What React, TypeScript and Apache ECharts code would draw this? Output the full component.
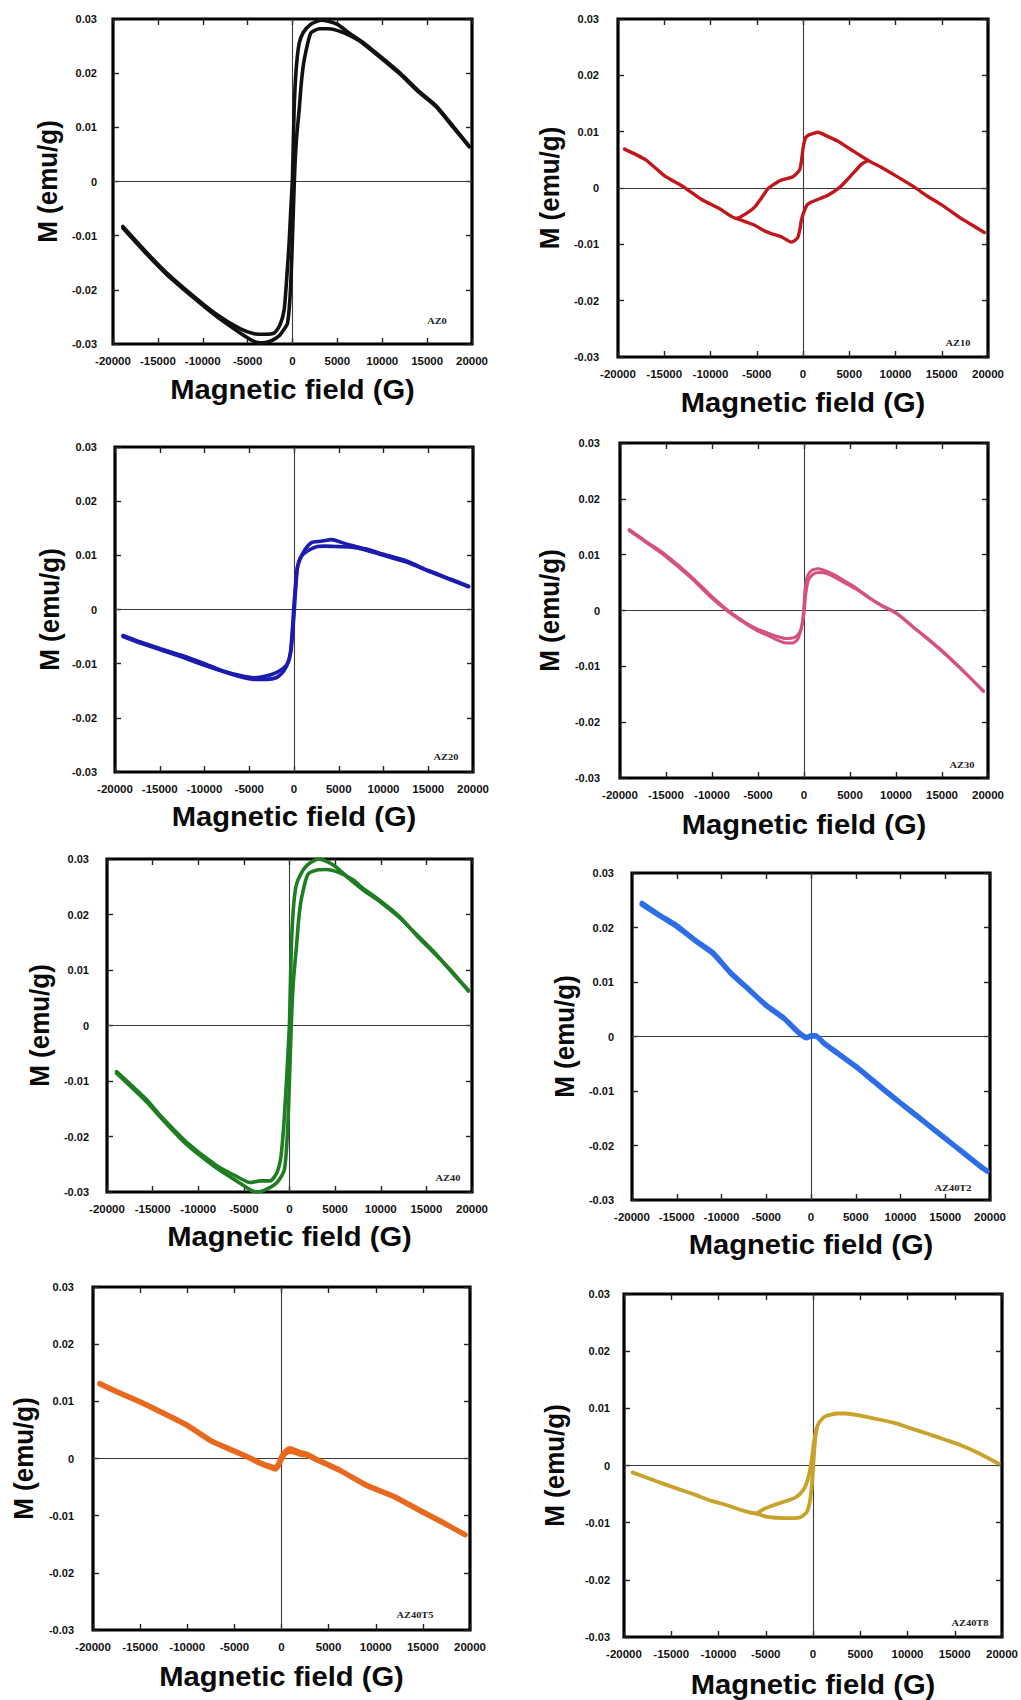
import React, { useEffect, useRef } from "react";
import * as echarts from "echarts";

// ---------- axis ticks ----------
const X_MIN = -20000;
const X_MAX = 20000;
const X_STEP = 5000;
const Y_MIN = -0.03;
const Y_MAX = 0.03;
const Y_STEP = 0.01;

const X_TITLE = "Magnetic field (G)";
const Y_TITLE = "M (emu/g)";

// ---------- data: [field (G), magnetization (emu/g)] ----------
const AZ0_DESC = [
  [19700, 0.0065], [18000, 0.0100], [16000, 0.0140], [14000, 0.0168], [12000, 0.0200],
  [10000, 0.0228], [8000, 0.0255], [6500, 0.0272], [5000, 0.0290], [4000, 0.0296],
  [3150, 0.0298], [2000, 0.0290], [1200, 0.0275], [740, 0.0255], [400, 0.0205],
  [180, 0.0132], [0, 0.0009], [-200, -0.0055], [-380, -0.0114], [-650, -0.0180],
  [-930, -0.0237], [-1400, -0.0265], [-2050, -0.0280], [-3160, -0.0282], [-4280, -0.0281],
  [-5800, -0.0272], [-8400, -0.0246], [-11000, -0.0212], [-14000, -0.0169], [-16200, -0.0132],
  [-18900, -0.0083],
];
const AZ0_ASC = [
  [-18900, -0.0086], [-16200, -0.0135], [-14000, -0.0172], [-11000, -0.0215], [-8400, -0.0250],
  [-5800, -0.0280], [-4300, -0.0295], [-3530, -0.0298], [-2500, -0.0295], [-1500, -0.0285],
  [-900, -0.0272], [-560, -0.0262], [-300, -0.0220], [-100, -0.0150], [100, -0.0050],
  [250, 0.0020], [450, 0.0080], [740, 0.0132], [1000, 0.0185], [1300, 0.0224],
  [2040, 0.0274], [3000, 0.0282], [4000, 0.0282], [5500, 0.0276], [7000, 0.0264],
  [8000, 0.0253], [10000, 0.0226], [12000, 0.0198], [14000, 0.0166], [16000, 0.0138],
  [18000, 0.0098], [19700, 0.0064],
];

const AZ10_MAIN = [
  [-19300, 0.0069], [-17000, 0.0050], [-15000, 0.0022], [-13000, 0.0003], [-11000, -0.0020],
  [-9000, -0.0037], [-7200, -0.0054], [-6200, -0.0046], [-5230, -0.0034], [-4500, -0.0018],
  [-3780, -0.0001], [-3000, 0.0008], [-2350, 0.0014], [-1090, 0.0020], [-370, 0.0032],
  [-150, 0.0050], [0, 0.0070], [250, 0.0088], [610, 0.0094], [1000, 0.0096],
  [1620, 0.0099], [2500, 0.0093], [3780, 0.0083], [5200, 0.0068], [7020, 0.0049],
  [8450, 0.0037], [10000, 0.0022], [12000, 0.0002], [13500, -0.0015], [15000, -0.0030],
  [17000, -0.0053], [18500, -0.0068], [19600, -0.0079],
];
const AZ10_LOOP = [
  [-7200, -0.0054], [-6200, -0.0060], [-5230, -0.0066], [-4300, -0.0075], [-3430, -0.0081],
  [-2300, -0.0087], [-1270, -0.0096], [-800, -0.0092], [-540, -0.0087], [-300, -0.0070],
  [-180, -0.0057], [180, -0.0039], [450, -0.0030], [900, -0.0025], [1800, -0.0019],
  [2700, -0.0013], [3960, 0.0001], [4800, 0.0015], [5580, 0.0029], [6300, 0.0042],
  [7020, 0.0049],
];

const AZ20_DESC = [
  [19500, 0.0043], [17500, 0.0056], [15000, 0.0072], [12500, 0.0090], [10000, 0.0102],
  [8000, 0.0112], [6000, 0.0120], [4200, 0.0129], [3000, 0.0126], [2000, 0.0124],
  [1200, 0.0110], [600, 0.0090], [300, 0.0070], [100, 0.0030], [0, 0.0010],
  [-150, -0.0030], [-400, -0.0080], [-800, -0.0102], [-1500, -0.0112], [-2500, -0.0120],
  [-3500, -0.0124], [-4500, -0.0126], [-6000, -0.0122], [-8000, -0.0113], [-10000, -0.0100],
  [-12500, -0.0085], [-15000, -0.0072], [-17500, -0.0058], [-19100, -0.0048],
];
const AZ20_ASC = [
  [-19100, -0.0050], [-17500, -0.0060], [-15000, -0.0074], [-12500, -0.0088], [-10000, -0.0103],
  [-8000, -0.0114], [-6000, -0.0124], [-4500, -0.0129], [-3000, -0.0129], [-2000, -0.0126],
  [-1200, -0.0115], [-600, -0.0095], [-300, -0.0070], [-100, -0.0030], [0, -0.0010],
  [150, 0.0030], [400, 0.0080], [800, 0.0098], [1500, 0.0108], [2500, 0.0116],
  [3500, 0.0117], [5000, 0.0116], [6500, 0.0115], [8000, 0.0110], [10000, 0.0100],
  [12500, 0.0088], [15000, 0.0071], [17500, 0.0055], [19500, 0.0042],
];

const AZ30_DESC = [
  [19500, -0.0145], [18000, -0.0119], [16500, -0.0095], [15000, -0.0072], [13500, -0.0051],
  [12000, -0.0031], [10500, -0.0010], [9700, -0.0001], [8600, 0.0008], [7200, 0.0022],
  [5700, 0.0040], [4500, 0.0052], [3500, 0.0062], [2500, 0.0070], [1600, 0.0075],
  [1000, 0.0073], [600, 0.0068], [300, 0.0058], [100, 0.0035], [0, 0.0010],
  [-200, -0.0025], [-500, -0.0040], [-1000, -0.0048], [-2000, -0.0050], [-3000, -0.0046],
  [-4000, -0.0040], [-5100, -0.0033], [-6500, -0.0020], [-8400, 0.0002], [-10200, 0.0028],
  [-12200, 0.0060], [-15300, 0.0103], [-17000, 0.0122], [-19000, 0.0145],
];
const AZ30_ASC = [
  [-19000, 0.0143], [-17000, 0.0120], [-15300, 0.0100], [-12200, 0.0057], [-10200, 0.0025],
  [-8400, 0.0000], [-6500, -0.0022], [-5100, -0.0036], [-4000, -0.0044], [-3000, -0.0052],
  [-2000, -0.0058], [-1200, -0.0058], [-700, -0.0052], [-300, -0.0032], [0, -0.0005],
  [200, 0.0030], [500, 0.0055], [1000, 0.0065], [1600, 0.0068], [2500, 0.0066],
  [3500, 0.0058], [4500, 0.0049], [5700, 0.0038], [7200, 0.0021], [8600, 0.0007],
  [9700, -0.0002], [10500, -0.0011], [12000, -0.0032], [13500, -0.0052], [15000, -0.0073],
  [16500, -0.0096], [18000, -0.0120], [19500, -0.0144],
];

const AZ40_DESC = [
  [19600, 0.0064], [18000, 0.0092], [16000, 0.0130], [14000, 0.0163], [12000, 0.0195],
  [10000, 0.0222], [8000, 0.0245], [6500, 0.0265], [5000, 0.0287], [4000, 0.0296],
  [3200, 0.0300], [2000, 0.0290], [1200, 0.0272], [700, 0.0250], [400, 0.0205],
  [180, 0.0130], [0, 0.0005], [-200, -0.0060], [-400, -0.0120], [-650, -0.0185],
  [-950, -0.0238], [-1400, -0.0266], [-2100, -0.0280], [-3200, -0.0280], [-4300, -0.0283],
  [-5800, -0.0272], [-8000, -0.0252], [-11300, -0.0210], [-14000, -0.0165], [-15700, -0.0133],
  [-18950, -0.0083],
];
const AZ40_ASC = [
  [-18950, -0.0086], [-15700, -0.0137], [-14000, -0.0168], [-11300, -0.0214], [-8000, -0.0257],
  [-5800, -0.0280], [-4200, -0.0297], [-3500, -0.0300], [-2500, -0.0295], [-1500, -0.0285],
  [-900, -0.0272], [-560, -0.0260], [-300, -0.0215], [-100, -0.0145], [100, -0.0045],
  [250, 0.0025], [450, 0.0085], [750, 0.0140], [1000, 0.0190], [1300, 0.0228],
  [2000, 0.0272], [3000, 0.0280], [4000, 0.0281], [5500, 0.0275], [7000, 0.0262],
  [8000, 0.0248], [10000, 0.0224], [12000, 0.0197], [14000, 0.0161], [16000, 0.0128],
  [18000, 0.0094], [19600, 0.0062],
];

const AZ40T2_DESC = [
  [19700, -0.0246], [19000, -0.0238], [17000, -0.0212], [15000, -0.0186], [13000, -0.0160],
  [11000, -0.0134], [9000, -0.0108], [7000, -0.0081], [5000, -0.0054], [3000, -0.0030],
  [1500, -0.0012], [500, 0.0002], [0, 0.0002], [-500, -0.0001], [-1500, 0.0010],
  [-3000, 0.0034], [-5000, 0.0058], [-7000, 0.0088], [-9000, 0.0118], [-11000, 0.0155],
  [-13000, 0.0178], [-15000, 0.0204], [-17000, 0.0224], [-18900, 0.0245],
];
const AZ40T2_ASC = [
  [-18900, 0.0242], [-17000, 0.0222], [-15000, 0.0201], [-13000, 0.0176], [-11000, 0.0152],
  [-9000, 0.0116], [-7000, 0.0086], [-5000, 0.0056], [-3000, 0.0032], [-1500, 0.0008],
  [-500, -0.0003], [0, 0.0000], [500, 0.0000], [1500, -0.0014], [3000, -0.0032],
  [5000, -0.0056], [7000, -0.0083], [9000, -0.0110], [11000, -0.0136], [13000, -0.0162],
  [15000, -0.0188], [17000, -0.0214], [19000, -0.0240], [19700, -0.0248],
];

const AZ40T5_DESC = [
  [19500, -0.0133], [17000, -0.0110], [14350, -0.0087], [12000, -0.0066], [9050, -0.0046],
  [6220, -0.0020], [3750, -0.0001], [2700, 0.0008], [1980, 0.0011], [1500, 0.0014],
  [920, 0.0018], [400, 0.0013], [0, 0.0004], [-320, -0.0008], [-670, -0.0016],
  [-1200, -0.0013], [-2260, -0.0007], [-3500, 0.0003], [-5000, 0.0014], [-7500, 0.0032],
  [-10000, 0.0059], [-12500, 0.0080], [-15000, 0.0100], [-17500, 0.0118], [-19300, 0.0132],
];
const AZ40T5_ASC = [
  [-19300, 0.0130], [-17500, 0.0116], [-15000, 0.0098], [-12500, 0.0078], [-10000, 0.0057],
  [-7500, 0.0030], [-5000, 0.0012], [-3500, 0.0001], [-2260, -0.0009], [-1200, -0.0016],
  [-670, -0.0019], [-300, -0.0013], [0, -0.0002], [400, 0.0008], [920, 0.0012],
  [1500, 0.0010], [2000, 0.0007], [2700, 0.0005], [3750, -0.0003], [6220, -0.0022],
  [9050, -0.0048], [12000, -0.0068], [14350, -0.0089], [17000, -0.0112], [19500, -0.0134],
];

const AZ40T8_MAIN = [
  [-19100, -0.0012], [-17000, -0.0025], [-14450, -0.0040], [-12500, -0.0051], [-10900, -0.0061],
  [-9000, -0.0070], [-7400, -0.0079], [-6040, -0.0084], [-5200, -0.0076], [-4100, -0.0069],
  [-3000, -0.0063], [-1980, -0.0057], [-1400, -0.0050], [-920, -0.0040], [-600, -0.0027],
  [-390, -0.0014], [-140, 0.0010], [140, 0.0045], [500, 0.0071], [1200, 0.0085],
  [2620, 0.0091], [3500, 0.0091], [4740, 0.0088], [6500, 0.0082], [8520, 0.0075],
  [10000, 0.0067], [12050, 0.0056], [14000, 0.0045], [15580, 0.0036], [17500, 0.0022],
  [19650, 0.0003],
];
const AZ40T8_LOOP = [
  [-6040, -0.0084], [-4800, -0.0090], [-3040, -0.0092], [-2000, -0.0092], [-1270, -0.0090],
  [-800, -0.0084], [-560, -0.0078], [-350, -0.0065], [-210, -0.0049], [-100, -0.0030],
  [-30, -0.0014], [60, 0.0010], [140, 0.0027], [250, 0.0050], [400, 0.0065],
];

// ---------- panels ----------
const SAMPLES = ["AZ0", "AZ10", "AZ20", "AZ30", "AZ40", "AZ40T2", "AZ40T5", "AZ40T8"];
const COLORS = ["#111111", "#c0171c", "#1b1bb0", "#d4527f", "#1f7d23", "#2d6ee6", "#e8691d", "#c8a22a"];
const BRANCHES = [
  [AZ0_DESC, AZ0_ASC],
  [AZ10_MAIN, AZ10_LOOP],
  [AZ20_DESC, AZ20_ASC],
  [AZ30_DESC, AZ30_ASC],
  [AZ40_DESC, AZ40_ASC],
  [AZ40T2_DESC, AZ40T2_ASC],
  [AZ40T5_DESC, AZ40T5_ASC],
  [AZ40T8_MAIN, AZ40T8_LOOP],
];

// layout (pixels): frame l,t,r,b; y-title x; y-label margin; x-title offset; sample-label position; line width
const LAYOUT = [
  { l: 113, t: 19, r: 472, b: 344, yt: 48, ym: 16, xt: 46, sx: 437, sy: 321, lw: 3.6 },
  { l: 618, t: 19, r: 988, b: 357, yt: 550, ym: 19, xt: 46, sx: 958, sy: 343, lw: 3.4 },
  { l: 115, t: 447, r: 473, b: 772, yt: 50, ym: 18, xt: 45, sx: 446, sy: 757, lw: 3.6 },
  { l: 620, t: 443, r: 988, b: 778, yt: 550, ym: 20, xt: 47, sx: 962, sy: 765, lw: 3 },
  { l: 107, t: 859, r: 472, b: 1192, yt: 40, ym: 18, xt: 45, sx: 448, sy: 1178, lw: 3.6 },
  { l: 632, t: 873, r: 990, b: 1200, yt: 565, ym: 18, xt: 45, sx: 953, sy: 1188, lw: 4.6 },
  { l: 93, t: 1287, r: 470, b: 1630, yt: 24, ym: 19, xt: 47, sx: 415, sy: 1615, lw: 4.6 },
  { l: 624, t: 1294, r: 1002, b: 1637, yt: 555, ym: 14, xt: 48, sx: 970, sy: 1623, lw: 3.8 },
];

const SANS = "'Liberation Sans', Arial, Helvetica, sans-serif";
const SERIF = "'Liberation Serif', 'Times New Roman', serif";

function buildOption() {
  const grid: any[] = [];
  const xAxis: any[] = [];
  const yAxis: any[] = [];
  const series: any[] = [];
  const graphic: any[] = [];

  const tick = { show: true, inside: true, length: 6, lineStyle: { color: "#222", width: 1.4 } };

  SAMPLES.forEach((name, i) => {
    const L = LAYOUT[i];
    grid.push({
      left: L.l, top: L.t, width: L.r - L.l, height: L.b - L.t,
      show: true, borderColor: "#000", borderWidth: 3.2, backgroundColor: "transparent",
      containLabel: false,
    });
    const xBase = {
      gridIndex: i, type: "value", min: X_MIN, max: X_MAX, interval: X_STEP,
      axisLine: { show: false, onZero: false }, axisTick: tick, splitLine: { show: false },
    };
    xAxis.push({
      ...xBase, position: "bottom",
      axisLabel: {
        show: true, margin: 11, fontSize: 11.5, fontWeight: "bold", fontFamily: SANS, color: "#111",
        formatter: (v: number) => String(Math.round(v)),
      },
    });
    xAxis.push({ ...xBase, position: "top", axisLabel: { show: false } });
    const yBase = {
      gridIndex: i, type: "value", min: Y_MIN, max: Y_MAX, interval: Y_STEP,
      axisLine: { show: false, onZero: false }, axisTick: tick, splitLine: { show: false },
    };
    yAxis.push({
      ...yBase, position: "left",
      axisLabel: {
        show: true, margin: L.ym, fontSize: 11, fontWeight: "bold", fontFamily: SANS, color: "#111",
        formatter: (v: number) => String(Number(v.toFixed(2))),
      },
    });
    yAxis.push({ ...yBase, position: "right", axisLabel: { show: false } });

    // zero lines
    series.push({
      type: "line", xAxisIndex: 2 * i, yAxisIndex: 2 * i, data: [[0, 0]],
      showSymbol: false, symbol: "none", lineStyle: { width: 0, opacity: 0 }, silent: true, z: 1,
      markLine: {
        silent: true, symbol: ["none", "none"], z: 1,
        label: { show: false },
        lineStyle: { color: "#3a3a3a", width: 1.1, type: "solid" },
        emphasis: { disabled: true },
        data: [{ yAxis: 0 }, { xAxis: 0 }],
      },
    });

    BRANCHES[i].forEach((branch) => {
      series.push({
        type: "line", name, xAxisIndex: 2 * i, yAxisIndex: 2 * i, data: branch,
        showSymbol: false, symbol: "none", smooth: 0.2, clip: true, silent: true, z: 3,
        lineStyle: { color: COLORS[i], width: L.lw, cap: "round", join: "round" },
      });
    });

    // titles & sample label
    graphic.push({
      type: "text", x: (L.l + L.r) / 2, y: L.b + L.xt, scaleX: 1.08, silent: true,
      style: {
        text: X_TITLE, fill: "#0a0a0a", font: `bold 27px ${SANS}`,
        align: "center", verticalAlign: "middle", textAlign: "center", textVerticalAlign: "middle",
      },
    });
    graphic.push({
      type: "text", x: L.yt, y: (L.t + L.b) / 2, rotation: Math.PI / 2, scaleY: 1.06, silent: true,
      style: {
        text: Y_TITLE, fill: "#0a0a0a", font: `bold 26px ${SANS}`,
        align: "center", verticalAlign: "middle", textAlign: "center", textVerticalAlign: "middle",
      },
    });
    graphic.push({
      type: "text", x: L.sx, y: L.sy, scaleX: 1.3, silent: true,
      style: {
        text: name, fill: "#222", font: `bold 8px ${SERIF}`,
        align: "center", verticalAlign: "middle", textAlign: "center", textVerticalAlign: "middle",
      },
    });
  });

  return {
    animation: false,
    backgroundColor: "#ffffff",
    grid, xAxis, yAxis, series, graphic,
  };
}

export default function App() {
  const ref = useRef<HTMLDivElement | null>(null);
  useEffect(() => {
    if (!ref.current) return;
    const chart = echarts.init(ref.current, null, { renderer: "svg" });
    chart.setOption(buildOption() as any);
    return () => chart.dispose();
  }, []);
  return (
    <div
      ref={ref}
      style={{ position: "absolute", left: 0, top: 0, width: 1021, height: 1700, background: "#fff" }}
    />
  );
}
